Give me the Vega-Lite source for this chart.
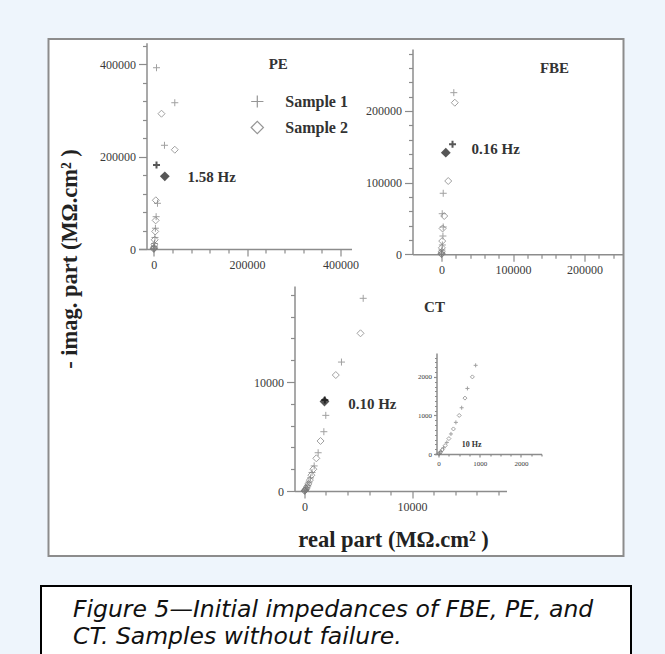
{
  "$schema": "https://vega.github.io/schema/vega-lite/v6.json",
  "background": "#eef5fc",
  "padding": {"left": 40, "top": 38, "right": 33, "bottom": 0},
  "datasets": {
    "pe": [
      {"sample": "Sample 1", "x": 5800, "y": 392600, "marked": "no"},
      {"sample": "Sample 1", "x": 45000, "y": 316800, "marked": "no"},
      {"sample": "Sample 1", "x": 22900, "y": 224600, "marked": "no"},
      {"sample": "Sample 1", "x": 5800, "y": 181900, "marked": "yes"},
      {"sample": "Sample 1", "x": 7900, "y": 99000, "marked": "no"},
      {"sample": "Sample 1", "x": 5000, "y": 70000, "marked": "no"},
      {"sample": "Sample 1", "x": 3500, "y": 45000, "marked": "no"},
      {"sample": "Sample 1", "x": 2500, "y": 25000, "marked": "no"},
      {"sample": "Sample 1", "x": 1500, "y": 12000, "marked": "no"},
      {"sample": "Sample 1", "x": 800, "y": 5000, "marked": "no"},
      {"sample": "Sample 1", "x": 300, "y": 1500, "marked": "no"},
      {"sample": "Sample 1", "x": 100, "y": 400, "marked": "no"},
      {"sample": "Sample 2", "x": 16500, "y": 293000, "marked": "no"},
      {"sample": "Sample 2", "x": 45000, "y": 215000, "marked": "no"},
      {"sample": "Sample 2", "x": 23600, "y": 157400, "marked": "yes"},
      {"sample": "Sample 2", "x": 4300, "y": 105500, "marked": "no"},
      {"sample": "Sample 2", "x": 4000, "y": 62000, "marked": "no"},
      {"sample": "Sample 2", "x": 3000, "y": 38000, "marked": "no"},
      {"sample": "Sample 2", "x": 2000, "y": 20000, "marked": "no"},
      {"sample": "Sample 2", "x": 1200, "y": 9000, "marked": "no"},
      {"sample": "Sample 2", "x": 600, "y": 3500, "marked": "no"},
      {"sample": "Sample 2", "x": 200, "y": 1000, "marked": "no"},
      {"sample": "Sample 2", "x": 50, "y": 200, "marked": "no"}
    ],
    "fbe": [
      {"sample": "Sample 1", "x": 17200, "y": 225400, "marked": "no"},
      {"sample": "Sample 1", "x": 15400, "y": 153400, "marked": "yes"},
      {"sample": "Sample 1", "x": 2400, "y": 85100, "marked": "no"},
      {"sample": "Sample 1", "x": 1000, "y": 56600, "marked": "no"},
      {"sample": "Sample 1", "x": 2400, "y": 38100, "marked": "no"},
      {"sample": "Sample 1", "x": 2000, "y": 25500, "marked": "no"},
      {"sample": "Sample 1", "x": 1200, "y": 13000, "marked": "no"},
      {"sample": "Sample 1", "x": 600, "y": 6000, "marked": "no"},
      {"sample": "Sample 1", "x": 200, "y": 2000, "marked": "no"},
      {"sample": "Sample 1", "x": 50, "y": 500, "marked": "no"},
      {"sample": "Sample 2", "x": 18600, "y": 211400, "marked": "no"},
      {"sample": "Sample 2", "x": 6000, "y": 141700, "marked": "yes"},
      {"sample": "Sample 2", "x": 9400, "y": 102200, "marked": "no"},
      {"sample": "Sample 2", "x": 3800, "y": 53400, "marked": "no"},
      {"sample": "Sample 2", "x": 1500, "y": 36000, "marked": "no"},
      {"sample": "Sample 2", "x": 1000, "y": 18500, "marked": "no"},
      {"sample": "Sample 2", "x": 500, "y": 9000, "marked": "no"},
      {"sample": "Sample 2", "x": 300, "y": 3500, "marked": "no"},
      {"sample": "Sample 2", "x": 100, "y": 1000, "marked": "no"},
      {"sample": "Sample 2", "x": 20, "y": 200, "marked": "no"}
    ],
    "ct": [
      {"sample": "Sample 1", "x": 5460, "y": 17680, "marked": "no"},
      {"sample": "Sample 1", "x": 3440, "y": 11830, "marked": "no"},
      {"sample": "Sample 1", "x": 1890, "y": 8350, "marked": "yes"},
      {"sample": "Sample 1", "x": 1980, "y": 6940, "marked": "no"},
      {"sample": "Sample 1", "x": 1800, "y": 5440, "marked": "no"},
      {"sample": "Sample 1", "x": 1270, "y": 3510, "marked": "no"},
      {"sample": "Sample 1", "x": 900, "y": 2300, "marked": "no"},
      {"sample": "Sample 1", "x": 700, "y": 1700, "marked": "no"},
      {"sample": "Sample 1", "x": 560, "y": 1200, "marked": "no"},
      {"sample": "Sample 1", "x": 420, "y": 820, "marked": "no"},
      {"sample": "Sample 1", "x": 300, "y": 520, "marked": "no"},
      {"sample": "Sample 1", "x": 200, "y": 300, "marked": "no"},
      {"sample": "Sample 1", "x": 120, "y": 160, "marked": "no"},
      {"sample": "Sample 1", "x": 60, "y": 70, "marked": "no"},
      {"sample": "Sample 1", "x": 20, "y": 20, "marked": "no"},
      {"sample": "Sample 2", "x": 5210, "y": 14470, "marked": "no"},
      {"sample": "Sample 2", "x": 2910, "y": 10640, "marked": "no"},
      {"sample": "Sample 2", "x": 1860, "y": 8210, "marked": "yes"},
      {"sample": "Sample 2", "x": 1490, "y": 4590, "marked": "no"},
      {"sample": "Sample 2", "x": 1100, "y": 3000, "marked": "no"},
      {"sample": "Sample 2", "x": 820, "y": 2000, "marked": "no"},
      {"sample": "Sample 2", "x": 640, "y": 1450, "marked": "no"},
      {"sample": "Sample 2", "x": 500, "y": 1000, "marked": "no"},
      {"sample": "Sample 2", "x": 360, "y": 650, "marked": "no"},
      {"sample": "Sample 2", "x": 250, "y": 400, "marked": "no"},
      {"sample": "Sample 2", "x": 160, "y": 220, "marked": "no"},
      {"sample": "Sample 2", "x": 90, "y": 110, "marked": "no"},
      {"sample": "Sample 2", "x": 40, "y": 40, "marked": "no"},
      {"sample": "Sample 2", "x": 10, "y": 8, "marked": "no"}
    ]
  },
  "vconcat": [
    {
      "width": 575,
      "height": 517,
      "view": {"fill": "white", "stroke": "#8c8c8c", "strokeWidth": 2},
      "layer": [
        {
          "layer": [
            {
              "data": {"name": "pe"},
              "mark": {"type": "point", "filled": false, "size": 49},
              "encoding": {
                "x": {"field": "x", "type": "quantitative",
                  "scale": {"domain": [-32800, 423800], "range": [90, 303], "nice": false, "zero": false},
                  "axis": {"orient": "bottom", "offset": -307, "values": [0, 200000, 400000], "format": "d", "tickSize": 7, "labelPadding": 3, "title": null}},
                "y": {"field": "y", "type": "quantitative",
                  "scale": {"domain": [0, 446800], "range": [210, 3.7], "nice": false, "zero": false},
                  "axis": {"orient": "left", "offset": -98, "values": [0, 200000, 400000], "format": "d", "tickSize": 8, "labelPadding": 3,
                    "title": "- imag. part (MΩ.cm² )", "titleX": -77, "titleY": 219.5, "titleAngle": -90, "titleAlign": "center", "titleBaseline": "middle"}},
                "shape": {"field": "sample", "type": "nominal",
                  "scale": {"domain": ["Sample 1", "Sample 2"], "range": ["M-1,0H1M0,-1V1", "diamond"]},
                  "legend": {"orient": "none", "legendX": 200.8, "legendY": 54.5, "title": null, "symbolSize": 150, "symbolStrokeWidth": 1.2,
                    "symbolStrokeColor": "#6a6a6a", "symbolFillColor": "transparent", "labelFont": "Liberation Serif", "labelFontSize": 16,
                    "labelFontWeight": "bold", "labelColor": "#333333", "labelOffset": 20, "rowPadding": 8, "padding": 0}},
                "stroke": {"field": "marked", "type": "nominal", "scale": {"domain": ["no", "yes"], "range": ["#7a7a7a", "#111111"]}, "legend": null},
                "fill": {"field": "marked", "type": "nominal", "scale": {"domain": ["no", "yes"], "range": ["transparent", "#111111"]}, "legend": null},
                "strokeWidth": {"field": "marked", "type": "ordinal", "scale": {"domain": ["no", "yes"], "range": [1, 2]}, "legend": null}
              }
            },
            {
              "data": {"values": [{}]},
              "mark": {"type": "text", "font": "Liberation Serif", "fontWeight": "bold", "fontSize": 15, "color": "#333333"},
              "encoding": {
                "x": {"datum": 266700, "type": "quantitative",
                  "axis": {"orient": "bottom", "offset": -307, "values": [40000, 80000, 120000, 160000, 240000, 280000, 320000, 360000], "labels": false, "domain": false, "tickSize": 4, "title": null}},
                "y": {"datum": 400000, "type": "quantitative",
                  "axis": {"orient": "left", "offset": -98, "values": [40000, 80000, 120000, 160000, 240000, 280000, 320000, 360000, 440000], "labels": false, "domain": false, "tickSize": 4, "title": null}},
                "text": {"value": "PE"}
              }
            },
            {
              "data": {"values": [{}]},
              "mark": {"type": "text", "align": "left", "font": "Liberation Serif", "fontWeight": "bold", "fontSize": 15, "color": "#333333"},
              "encoding": {
                "x": {"datum": 72240, "type": "quantitative", "axis": null},
                "y": {"datum": 155900, "type": "quantitative", "axis": null},
                "text": {"value": "1.58 Hz"}
              }
            }
          ],
          "resolve": {"axis": {"x": "independent", "y": "independent"}}
        },
        {
          "layer": [
            {
              "data": {"name": "fbe"},
              "mark": {"type": "point", "filled": false, "size": 49},
              "encoding": {
                "x": {"field": "x", "type": "quantitative",
                  "scale": {"domain": [-40560, 254500], "range": [364, 575], "nice": false, "zero": false},
                  "axis": {"orient": "bottom", "offset": -301.7, "values": [0, 100000, 200000], "format": "d", "tickSize": 7, "labelPadding": 3, "title": null}},
                "y": {"field": "y", "type": "quantitative",
                  "scale": {"domain": [0, 286300], "range": [215.3, 10], "nice": false, "zero": false},
                  "axis": {"orient": "left", "offset": -364, "values": [0, 100000, 200000], "format": "d", "tickSize": 8, "labelPadding": 3, "title": null}},
                "shape": {"field": "sample", "type": "nominal", "scale": {"domain": ["Sample 1", "Sample 2"], "range": ["M-1,0H1M0,-1V1", "diamond"]}, "legend": null},
                "stroke": {"field": "marked", "type": "nominal", "scale": {"domain": ["no", "yes"], "range": ["#7a7a7a", "#111111"]}, "legend": null},
                "fill": {"field": "marked", "type": "nominal", "scale": {"domain": ["no", "yes"], "range": ["transparent", "#111111"]}, "legend": null},
                "strokeWidth": {"field": "marked", "type": "ordinal", "scale": {"domain": ["no", "yes"], "range": [1, 2]}, "legend": null}
              }
            },
            {
              "data": {"values": [{}]},
              "mark": {"type": "text", "font": "Liberation Serif", "fontWeight": "bold", "fontSize": 15, "color": "#333333"},
              "encoding": {
                "x": {"datum": 158000, "type": "quantitative",
                  "axis": {"orient": "bottom", "offset": -301.7, "values": [20000, 40000, 60000, 80000, 120000, 140000, 160000, 180000, 220000, 240000], "labels": false, "domain": false, "tickSize": 4, "title": null}},
                "y": {"datum": 259400, "type": "quantitative",
                  "axis": {"orient": "left", "offset": -364, "values": [20000, 40000, 60000, 80000, 120000, 140000, 160000, 180000, 220000, 240000, 260000, 280000], "labels": false, "domain": false, "tickSize": 4, "title": null}},
                "text": {"value": "FBE"}
              }
            },
            {
              "data": {"values": [{}]},
              "mark": {"type": "text", "align": "left", "font": "Liberation Serif", "fontWeight": "bold", "fontSize": 15, "color": "#333333"},
              "encoding": {
                "x": {"datum": 41960, "type": "quantitative", "axis": null},
                "y": {"datum": 147300, "type": "quantitative", "axis": null},
                "text": {"value": "0.16 Hz"}
              }
            }
          ],
          "resolve": {"axis": {"x": "independent", "y": "independent"}}
        },
        {
          "layer": [
            {
              "data": {"name": "ct"},
              "mark": {"type": "point", "filled": false, "size": 49},
              "encoding": {
                "x": {"field": "x", "type": "quantitative",
                  "scale": {"domain": [-930, 18790], "range": [246, 458], "nice": false, "zero": false},
                  "axis": {"orient": "bottom", "offset": -65, "values": [0, 10000], "format": "d", "tickSize": 7, "labelPadding": 3,
                    "title": "real part (MΩ.cm² )", "titleX": 344.6, "titleY": 48, "titleAlign": "center", "titleBaseline": "middle", "titleAngle": 0}},
                "y": {"field": "y", "type": "quantitative",
                  "scale": {"domain": [0, 18810], "range": [452, 247], "nice": false, "zero": false},
                  "axis": {"orient": "left", "offset": -246, "values": [0, 10000], "format": "d", "tickSize": 8, "labelPadding": 3, "title": null}},
                "shape": {"field": "sample", "type": "nominal", "scale": {"domain": ["Sample 1", "Sample 2"], "range": ["M-1,0H1M0,-1V1", "diamond"]}, "legend": null},
                "stroke": {"field": "marked", "type": "nominal", "scale": {"domain": ["no", "yes"], "range": ["#7a7a7a", "#111111"]}, "legend": null},
                "fill": {"field": "marked", "type": "nominal", "scale": {"domain": ["no", "yes"], "range": ["transparent", "#111111"]}, "legend": null},
                "strokeWidth": {"field": "marked", "type": "ordinal", "scale": {"domain": ["no", "yes"], "range": [1, 2]}, "legend": null}
              }
            },
            {
              "data": {"values": [{}]},
              "mark": {"type": "text", "font": "Liberation Serif", "fontWeight": "bold", "fontSize": 15, "color": "#333333"},
              "encoding": {
                "x": {"datum": 12090, "type": "quantitative",
                  "axis": {"orient": "bottom", "offset": -65, "values": [2000, 4000, 6000, 8000, 12000, 14000, 16000, 18000], "labels": false, "domain": false, "tickSize": 4, "title": null}},
                "y": {"datum": 16880, "type": "quantitative",
                  "axis": {"orient": "left", "offset": -246, "values": [2000, 4000, 6000, 8000, 12000, 14000, 16000, 18000], "labels": false, "domain": false, "tickSize": 4, "title": null}},
                "text": {"value": "CT"}
              }
            },
            {
              "data": {"values": [{}]},
              "mark": {"type": "text", "align": "left", "font": "Liberation Serif", "fontWeight": "bold", "fontSize": 15, "color": "#333333"},
              "encoding": {
                "x": {"datum": 4065, "type": "quantitative", "axis": null},
                "y": {"datum": 7950, "type": "quantitative", "axis": null},
                "text": {"value": "0.10 Hz"}
              }
            }
          ],
          "resolve": {"axis": {"x": "independent", "y": "independent"}}
        },
        {
          "layer": [
            {
              "data": {"name": "ct"},
              "transform": [{"filter": "datum.x <= 2500 && datum.y <= 2620"}],
              "mark": {"type": "point", "filled": false, "size": 16},
              "encoding": {
                "x": {"field": "x", "type": "quantitative",
                  "scale": {"domain": [-100, 2500], "range": [386, 493], "nice": false, "zero": false},
                  "axis": {"orient": "bottom", "offset": -102, "values": [0, 1000, 2000], "format": "d", "tickSize": 3, "labelPadding": 2, "labelFontSize": 7, "title": null}},
                "y": {"field": "y", "type": "quantitative",
                  "scale": {"domain": [0, 2620], "range": [415, 314], "nice": false, "zero": false},
                  "axis": {"orient": "left", "offset": -388, "values": [0, 1000, 2000], "format": "d", "tickSize": 3, "labelPadding": 2, "labelFontSize": 7, "title": null}},
                "shape": {"field": "sample", "type": "nominal", "scale": {"domain": ["Sample 1", "Sample 2"], "range": ["M-1,0H1M0,-1V1", "diamond"]}, "legend": null},
                "stroke": {"field": "marked", "type": "nominal", "scale": {"domain": ["no", "yes"], "range": ["#7a7a7a", "#111111"]}, "legend": null},
                "fill": {"field": "marked", "type": "nominal", "scale": {"domain": ["no", "yes"], "range": ["transparent", "#111111"]}, "legend": null},
                "strokeWidth": {"field": "marked", "type": "ordinal", "scale": {"domain": ["no", "yes"], "range": [1, 2]}, "legend": null}
              }
            },
            {
              "data": {"values": [{}]},
              "mark": {"type": "text", "align": "left", "font": "Liberation Serif", "fontWeight": "bold", "fontSize": 8, "color": "#333333"},
              "encoding": {
                "x": {"datum": 560, "type": "quantitative",
                  "axis": {"orient": "bottom", "offset": -102, "values": [250, 500, 750, 1250, 1500, 1750, 2250, 2500], "labels": false, "domain": false, "tickSize": 2, "title": null}},
                "y": {"datum": 234, "type": "quantitative",
                  "axis": {"orient": "left", "offset": -388, "values": [125, 250, 375, 500, 625, 750, 875, 1125, 1250, 1375, 1500, 1625, 1750, 1875, 2125, 2250, 2375, 2500], "labels": false, "domain": false, "tickSize": 2, "title": null}},
                "text": {"value": "10 Hz"}
              }
            }
          ],
          "resolve": {"axis": {"x": "independent", "y": "independent"}}
        }
      ],
      "resolve": {
        "scale": {"x": "independent", "y": "independent"},
        "axis": {"x": "independent", "y": "independent"}
      }
    },
    {
      "width": 590,
      "height": 80,
      "view": {"fill": "white", "stroke": "black", "strokeWidth": 2},
      "data": {"values": [{}]},
      "mark": {"type": "text"},
      "encoding": {"text": {"value": ""}},
      "title": {
        "text": ["Figure 5—Initial impedances of FBE, PE, and", "CT. Samples without failure."],
        "orient": "top", "anchor": "start", "frame": "group", "offset": -62, "dx": 32,
        "font": "DejaVu Sans", "fontStyle": "italic", "fontWeight": "normal", "fontSize": 23.5, "lineHeight": 27, "color": "#111111"
      }
    }
  ],
  "spacing": 28,
  "center": true,
  "resolve": {
    "scale": {"shape": "independent", "stroke": "independent", "fill": "independent", "strokeWidth": "independent"},
    "legend": {"shape": "independent"}
  },
  "config": {
    "axis": {
      "domainColor": "#8c8c8c", "domainWidth": 1.5, "tickColor": "#8c8c8c", "tickWidth": 1.2,
      "labelFont": "Liberation Serif", "labelFontSize": 12, "labelColor": "#3a3a3a",
      "grid": false, "labelFlush": false, "labelOverlap": false,
      "titleFont": "Liberation Serif", "titleFontWeight": "bold", "titleFontSize": 22.5, "titleColor": "#222222"
    }
  }
}
